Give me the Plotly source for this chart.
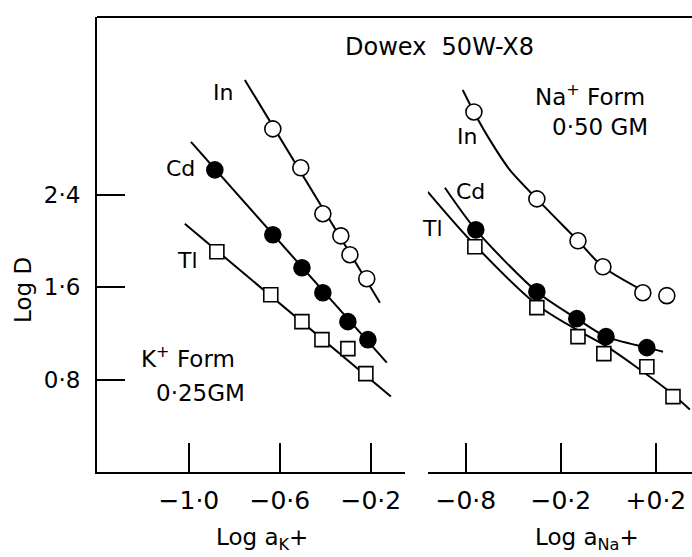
import plotly.graph_objects as go

# ---------------- data ----------------
# Left panel: K+ form, x = Log a_K+
k_in_x = [-0.631, -0.508, -0.411, -0.332, -0.292, -0.218]
k_in_y = [2.971, 2.634, 2.236, 2.045, 1.881, 1.674]
k_cd_x = [-0.886, -0.631, -0.503, -0.411, -0.301, -0.213]
k_cd_y = [2.616, 2.054, 1.769, 1.552, 1.302, 1.146]
k_tl_x = [-0.877, -0.640, -0.503, -0.415, -0.301, -0.222]
k_tl_y = [1.907, 1.535, 1.302, 1.146, 1.068, 0.852]
# fitted straight lines (endpoints)
k_in_fit_x = [-0.754, -0.160]
k_in_fit_y = [3.395, 1.466]
k_cd_fit_x = [-0.991, -0.130]
k_cd_fit_y = [2.858, 0.947]
k_tl_fit_x = [-1.018, -0.112]
k_tl_fit_y = [2.149, 0.653]

# Right panel: Na+ form, x = Log a_Na+ (axis position units)
na_in_x = [-0.566, -0.301, -0.128, -0.023, 0.145, 0.246]
na_in_y = [3.118, 2.365, 2.002, 1.777, 1.552, 1.527]
na_cd_x = [-0.558, -0.301, -0.133, -0.010, 0.162]
na_cd_y = [2.097, 1.561, 1.328, 1.172, 1.077]
na_tl_x = [-0.562, -0.301, -0.128, -0.019, 0.162, 0.272]
na_tl_y = [1.950, 1.423, 1.172, 1.025, 0.912, 0.653]
# drawn curves
na_in_cx = [-0.613, -0.566, -0.499, -0.415, -0.301, -0.128, -0.023, 0.154]
na_in_cy = [3.308, 3.118, 2.876, 2.616, 2.365, 2.002, 1.777, 1.561]
na_cd_cx = [-0.688, -0.558, -0.301, -0.133, -0.010, 0.162, 0.230]
na_cd_cy = [2.461, 2.097, 1.561, 1.328, 1.172, 1.077, 1.042]
na_tl_cx = [-0.760, -0.583, -0.301, -0.133, -0.006, 0.246, 0.343]
na_tl_cy = [2.426, 2.011, 1.449, 1.232, 1.085, 0.714, 0.541]

y_ticks = [0.8, 1.6, 2.4]
y_tick_text = ["0·8", "1·6", "2·4"]
k_ticks = [-1.0, -0.6, -0.2]
k_tick_text = ["−1·0", "−0·6", "−0·2"]
na_ticks = [-0.6, -0.2, 0.2]
na_tick_text = ["−0·8", "−0·2", "+0·2"]

FONT = "DejaVu Sans"
LW = 2

fig = go.Figure()

def line(x, y, xa, ya, shape="linear"):
    fig.add_trace(go.Scatter(x=x, y=y, mode="lines", xaxis=xa, yaxis=ya,
                             line=dict(color="black", width=LW, shape=shape,
                                       smoothing=0.8),
                             showlegend=False, hoverinfo="skip"))

def pts(x, y, xa, ya, symbol, fill):
    fig.add_trace(go.Scatter(x=x, y=y, mode="markers", xaxis=xa, yaxis=ya,
                             marker=dict(symbol=symbol, size=16 if "circle" in symbol else 14,
                                         color=fill,
                                         line=dict(color="black", width=1.6)),
                             showlegend=False))

line(k_in_fit_x, k_in_fit_y, "x", "y")
line(k_cd_fit_x, k_cd_fit_y, "x", "y")
line(k_tl_fit_x, k_tl_fit_y, "x", "y")
pts(k_in_x, k_in_y, "x", "y", "circle", "white")
pts(k_cd_x, k_cd_y, "x", "y", "circle", "black")
pts(k_tl_x, k_tl_y, "x", "y", "square", "white")

line(na_in_cx, na_in_cy, "x2", "y2", "spline")
line(na_cd_cx, na_cd_cy, "x2", "y2", "spline")
line(na_tl_cx, na_tl_cy, "x2", "y2", "spline")
pts(na_in_x, na_in_y, "x2", "y2", "circle", "white")
pts(na_cd_x, na_cd_y, "x2", "y2", "circle", "black")
pts(na_tl_x, na_tl_y, "x2", "y2", "square", "white")

xtickfont = dict(family=FONT, size=25, color="black")
ytickfont = dict(family=FONT, size=23, color="black")
common_x = dict(showline=True, linecolor="black", linewidth=LW, ticks="inside",
                ticklen=29, tickwidth=LW, tickcolor="black", showgrid=False,
                zeroline=False, tickfont=xtickfont, ticklabelstandoff=5)

fig.update_layout(
    width=692, height=557,
    margin=dict(l=97, r=0, t=17, b=85),
    plot_bgcolor="white", paper_bgcolor="white",
    xaxis=dict(domain=[0, 0.5176], range=[-1.404, -0.05], anchor="y",
               tickvals=k_ticks, ticktext=k_tick_text, **common_x),
    xaxis2=dict(domain=[0.556, 1], range=[-0.760, 0.352], anchor="y2",
                tickvals=na_ticks, ticktext=na_tick_text, **common_x),
    yaxis=dict(range=[0, 3.94], anchor="x", showline=True, linecolor="black",
               linewidth=LW, ticks="inside", ticklen=28, tickwidth=LW,
               tickcolor="black", tickvals=y_ticks, ticktext=y_tick_text,
               showgrid=False, zeroline=False, tickfont=ytickfont,
               ticklabelstandoff=10),
    yaxis2=dict(range=[0, 3.94], anchor="x2", matches="y", visible=False),
)

# top border across both panels
fig.add_shape(type="line", xref="paper", yref="paper", x0=0, x1=1, y0=1, y1=1,
              line=dict(color="black", width=LW))

L, T, PW, PH = 97.0, 17.0, 595.0, 455.0

def ptxt(xp, yp, s, size=22, textangle=0):
    fig.add_annotation(x=(xp - L) / PW, y=1 - (yp - T) / PH, xref="paper",
                       yref="paper", text=s, showarrow=False, xanchor="center",
                       yanchor="middle", textangle=textangle,
                       font=dict(family=FONT, size=size, color="black"))

ptxt(440, 47, "Dowex  50W-X8", 24)
ptxt(223, 93, "In", 22)
ptxt(180, 169, "Cd", 22)
ptxt(187, 260, "Tl", 22)
ptxt(467, 137, "In", 22)
ptxt(470, 192, "Cd", 22)
ptxt(432, 228, "Tl", 22)
ptxt(590, 95, "Na<sup>+</sup> Form", 23)
ptxt(600, 127, "0·50 GM", 23)
ptxt(188, 357, "K<sup>+</sup> Form", 23)
ptxt(200, 393, "0·25GM", 23)
ptxt(262, 539, "Log a<sub>K</sub>+", 23)
ptxt(587, 539, "Log a<sub>Na</sub>+", 23)
ptxt(23, 290, "Log D", 23, textangle=-90)

fig.write_html("out.html")
